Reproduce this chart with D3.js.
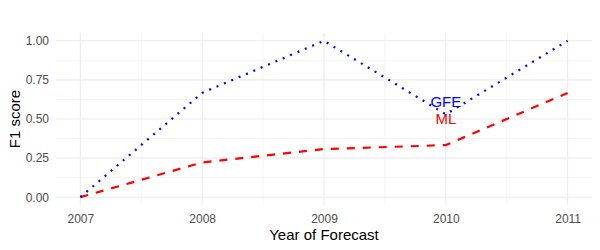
<!DOCTYPE html>
<html>
<head>
<meta charset="utf-8">
<script src="https://cdn.jsdelivr.net/npm/d3@7"></script>
<style>
  body { margin: 0; background: #fff; }
  svg { font-family: "Liberation Sans", Arial, sans-serif; }
</style>
</head>
<body>
<div id="chart"></div>
<script>
// chart values
const years = [2007, 2008, 2009, 2010, 2011];
const gfeScores = [0, 0.667, 1.0, 0.53, 1.0];
const mlScores = [0, 0.222, 0.308, 0.333, 0.667];
const yTicks = [0, 0.25, 0.5, 0.75, 1.0];
const labelNames = ["GFE", "ML"];
const labelValues = [0.61, 0.5];

const width = 600, height = 250;
const margin = {left: 56, top: 33, right: 8, bottom: 45};

const svg = d3.select("#chart").append("svg")
    .attr("width", width)
    .attr("height", height);

// panel expanded like ggplot (5% padding)
const x = d3.scaleLinear()
    .domain([2007 - 0.2, 2011 + 0.2])
    .range([margin.left, width - margin.right]);
const y = d3.scaleLinear()
    .domain([-0.05, 1.05])
    .range([height - margin.bottom, margin.top]);

const grid = svg.append("g");

// minor grid
const xMinor = years.slice(0, -1).map(d => d + 0.5);
const yMinor = yTicks.slice(0, -1).map(d => d + 0.125);
grid.selectAll(".xminor").data(xMinor).enter().append("line")
    .attr("x1", d => x(d)).attr("x2", d => x(d))
    .attr("y1", y.range()[0]).attr("y2", y.range()[1])
    .attr("stroke", "#ebebeb").attr("stroke-width", 0.55);
grid.selectAll(".yminor").data(yMinor).enter().append("line")
    .attr("y1", d => y(d)).attr("y2", d => y(d))
    .attr("x1", x.range()[0]).attr("x2", x.range()[1])
    .attr("stroke", "#ebebeb").attr("stroke-width", 0.55);

// major grid
grid.selectAll(".xmajor").data(years).enter().append("line")
    .attr("x1", d => x(d)).attr("x2", d => x(d))
    .attr("y1", y.range()[0]).attr("y2", y.range()[1])
    .attr("stroke", "#ebebeb").attr("stroke-width", 1.1);
grid.selectAll(".ymajor").data(yTicks).enter().append("line")
    .attr("y1", d => y(d)).attr("y2", d => y(d))
    .attr("x1", x.range()[0]).attr("x2", x.range()[1])
    .attr("stroke", "#ebebeb").attr("stroke-width", 1.1);

// axes (no lines, only labels)
const xAxis = svg.append("g")
    .attr("transform", "translate(0," + (height - margin.bottom) + ")")
    .call(d3.axisBottom(x).tickValues(years).tickFormat(d3.format("d")).tickSize(0).tickPadding(9));
const yAxis = svg.append("g")
    .attr("transform", "translate(" + margin.left + ",0)")
    .call(d3.axisLeft(y).tickValues(yTicks).tickFormat(d3.format(".2f")).tickSize(0).tickPadding(7));
[xAxis, yAxis].forEach(a => {
    a.select(".domain").remove();
    a.selectAll("text").attr("fill", "#4d4d4d").attr("font-size", 12)
        .attr("font-family", "Liberation Sans, Arial, sans-serif");
});

// lines
const line = vals => d3.line()
    .x((d, i) => x(years[i]))
    .y(d => y(d))(vals);

svg.append("path")
    .attr("d", line(mlScores))
    .attr("fill", "none")
    .attr("stroke", "#ff0000")
    .attr("stroke-width", 2.2)
    .attr("stroke-dasharray", "8,8");

svg.append("path")
    .attr("d", line(gfeScores))
    .attr("fill", "none")
    .attr("stroke", "#0000ff")
    .attr("stroke-width", 2.2)
    .attr("stroke-dasharray", "2,6");

// text labels
const labelColors = ["#0000ff", "#ff0000"];
svg.selectAll(".lbl").data(labelNames).enter().append("text")
    .attr("x", x(2010))
    .attr("y", (d, i) => y(labelValues[i]))
    .attr("dy", "0.35em")
    .attr("text-anchor", "middle")
    .attr("font-size", 15)
    .attr("fill", (d, i) => labelColors[i])
    .text(d => d);

// axis titles
svg.append("text")
    .attr("x", (x.range()[0] + x.range()[1]) / 2)
    .attr("y", height - 10)
    .attr("text-anchor", "middle")
    .attr("font-size", 15)
    .attr("fill", "#000")
    .text("Year of Forecast");

svg.append("text")
    .attr("transform", "translate(20," + ((y.range()[0] + y.range()[1]) / 2) + ") rotate(-90)")
    .attr("text-anchor", "middle")
    .attr("font-size", 15)
    .attr("fill", "#000")
    .text("F1 score");
</script>
</body>
</html>
